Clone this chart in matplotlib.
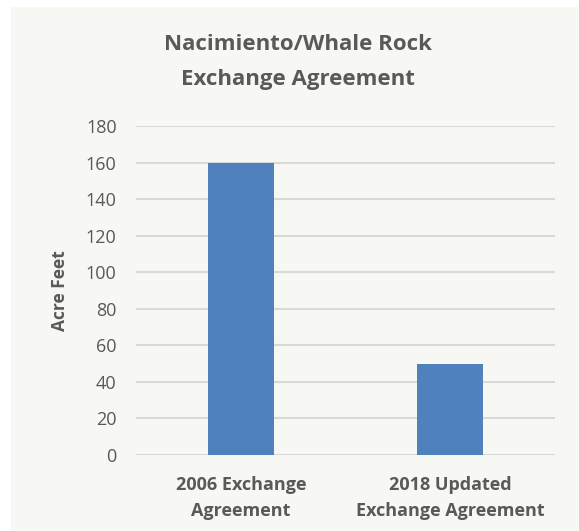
import matplotlib.pyplot as plt
import matplotlib.patches as mpatches

plt.rcParams['font.family'] = ['Open Sans', 'DejaVu Sans']

categories = ["2006 Exchange\nAgreement", "2018 Updated\nExchange Agreement"]
acre_feet = [160, 50]
y_ticks = [0, 20, 40, 60, 80, 100, 120, 140, 160, 180]

text_color = '#595959'
bg_color = '#F7F7F4'
bar_color = '#4F81BD'
grid_color = '#D9D9D9'

W, H = 579, 531
fig = plt.figure(figsize=(W / 100, H / 100), dpi=100, facecolor='white')

# off-white chart area, white strip at top and left
fig.patches.append(mpatches.Rectangle((11 / W, 0), 1 - 11 / W, 1 - 7 / H,
                                      transform=fig.transFigure,
                                      facecolor=bg_color, edgecolor='none', zorder=-5))

ax = fig.add_axes([136 / W, 1 - 455 / H, (555 - 136) / W, (455 - 126) / H])
ax.set_facecolor('none')
ax.set_zorder(2)

x = list(range(len(categories)))
ax.bar(x, acre_feet, width=0.315, color=bar_color, zorder=3)

ax.set_xlim(-0.5, len(categories) - 0.5)
ax.set_ylim(0, 180)
ax.set_yticks(y_ticks)
ax.set_yticklabels([str(t) for t in y_ticks], fontsize=13, color=text_color)
ax.set_xticks(x)
ax.set_xticklabels(categories, fontsize=13, fontweight='bold', color=text_color,
                   linespacing=1.6)
ax.tick_params(axis='both', length=0)
ax.tick_params(axis='y', pad=14)
ax.tick_params(axis='x', pad=15)

ax.grid(True, axis='y', color=grid_color, lw=1.5, zorder=0)
for s in ax.spines.values():
    s.set_visible(False)

ax.set_ylabel("Acre Feet", fontsize=12.5, fontweight='bold', color=text_color, labelpad=12)

fig.text(298 / W, 1 - 62 / H, "Nacimiento/Whale Rock\nExchange Agreement",
         ha='center', va='center', fontsize=16, fontweight='bold',
         color=text_color, linespacing=1.85, zorder=3)

fig.savefig("out.png", dpi=100, facecolor='white')
plt.close(fig)
